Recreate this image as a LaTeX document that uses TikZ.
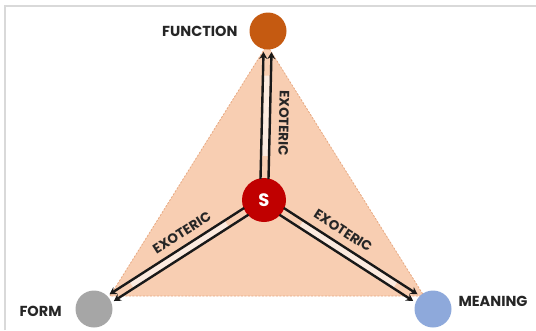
\documentclass[tikz,border=0pt]{standalone}
\usepackage{fontspec}
\setmainfont{Poppins}
\usetikzlibrary{arrows.meta,calc}
\definecolor{peach}{RGB}{248,206,178}
\definecolor{peachline}{RGB}{232,168,128}
\definecolor{fnorange}{RGB}{197,90,17}
\definecolor{sred}{RGB}{192,0,0}
\definecolor{formgray}{RGB}{166,166,166}
\definecolor{meanblue}{RGB}{142,169,219}
\definecolor{labelgray}{RGB}{38,38,38}
\definecolor{framegray}{RGB}{217,217,217}
\begin{document}
\begin{tikzpicture}[x=1pt,y=-1pt,
  every node/.style={font=\bfseries\fontsize{14.5}{16}\selectfont,text=labelgray},
  dot/.style={circle,minimum size=37pt,inner sep=0pt},
  link/.style={line width=2.4pt,black!90,-{Stealth[length=7pt,width=8pt]}},
  tag/.style={font=\bfseries\fontsize{13.5}{15}\selectfont,text=black!85,sloped,inner sep=1pt}]
% Semiotic triangle with the sign in the middle
\useasboundingbox (0,0) rectangle (536,330);
\draw[framegray,line width=1.5pt] (5,330) -- (5,6) -- (536,6);
\coordinate (top) at (267,45);
\coordinate (bl) at (110,296);
\coordinate (br) at (424,296);
\fill[peach] (top) -- (bl) -- (br) -- cycle;
\draw[peachline,dash pattern=on 2pt off 1.5pt,line width=0.8pt] (top) -- (bl) -- (br) -- cycle;
\node[dot,fill=fnorange] (fn) at (268,31) {};
\node[dot,fill=formgray] (form) at (94,309) {};
\node[dot,fill=meanblue] (mean) at (433,309) {};
\node[dot,fill=sred,minimum size=44pt,text=white,font=\bfseries\fontsize{18}{20}\selectfont] (s) at (264,200) {S};
\node[anchor=east] (fnlabel) at (241,31) {FUNCTION};
\node[anchor=west] (formlabel) at (16,311) {FORM};
\node[anchor=west] (meanlabel) at (455,301) {MEANING};
\foreach \t in {fn,form,mean} {
  \draw[line width=6pt,white!60!peach,shorten <=22pt,shorten >=26pt] (s) -- (\t);
  \foreach \o in {-4,4}
    \draw[link,shorten <=21pt,shorten >=21pt] ($(s)!\o pt!90:(\t)$) -- ($(\t)!\o pt!-90:(s)$);
}
\path (fn) -- (s) node[tag,allow upside down,pos=0.57,above=12pt] {EXOTERIC};
\path (form) -- (s) node[tag,pos=0.6,above=11pt] {EXOTERIC};
\path (s) -- (mean) node[tag,pos=0.38,above=11pt] {EXOTERIC};
\end{tikzpicture}
\end{document}
